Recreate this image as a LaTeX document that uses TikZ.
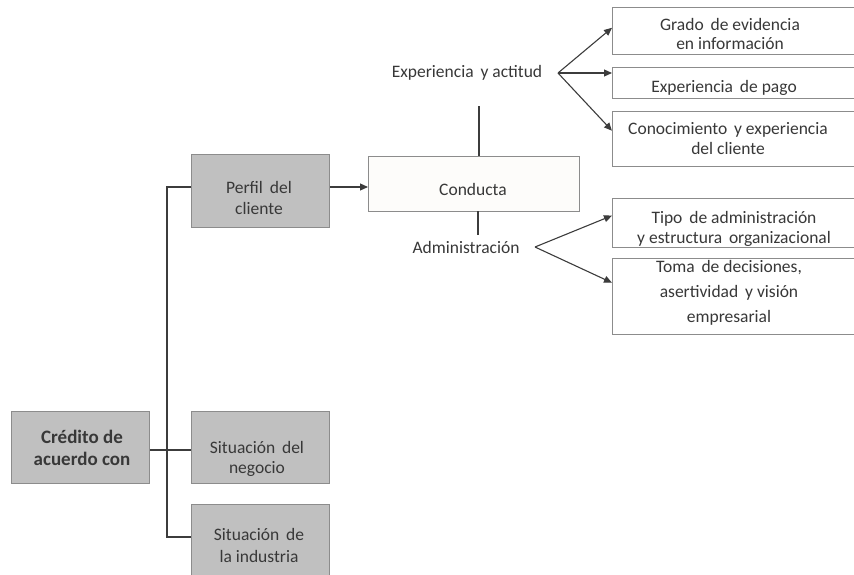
\documentclass[tikz,border=0pt]{standalone}
\usepackage{fontspec}
\setmainfont{Carlito}
\usetikzlibrary{arrows.meta,calc}
\definecolor{boxgray}{HTML}{C0C0C0}
\definecolor{boxline}{HTML}{8C8C8C}
\definecolor{linecol}{HTML}{3C3C3C}
\definecolor{txt}{HTML}{383838}
\definecolor{paper}{HTML}{FDFCFA}
\tikzset{
  base/.style={line width=1.3pt, draw=boxline, inner sep=0pt, anchor=north west},
  graybox/.style={base, fill=boxgray},
  whitebox/.style={base, fill=white},
  txtnode/.style={text=txt, align=center, inner sep=0pt, font=\fontsize{17.5}{#1}\selectfont},
  txtnode/.default=20,
  conn/.style={draw=linecol, line width=1.1pt},
  arr/.style={conn, -{Triangle[length=8pt,width=7pt]}}
}
\begin{document}
\begin{tikzpicture}[x=1pt,y=-1pt]
\useasboundingbox (0,0) rectangle (854,574);
\clip (0,0) rectangle (854,574);

% left column
\node[graybox, minimum width=138pt, minimum height=72pt] (cred) at (11,411) {};
\node[txtnode=22, font=\fontsize{19}{22}\selectfont\bfseries] (credT) at (82,448) {Crédito de\\acuerdo con};

\node[graybox, minimum width=138pt, minimum height=73pt] (perfil) at (191,154) {};
\node[txtnode=21] (perfilT) at (259,198) {Perfil\, del\\cliente};

\node[graybox, minimum width=138pt, minimum height=72pt] (negocio) at (191,411) {};
\node[txtnode=20] (negocioT) at (257,459) {Situación\, del\\negocio};

\node[graybox, minimum width=138pt, minimum height=90pt] (industria) at (191,504) {};
\node[txtnode=22] (industriaT) at (259,545) {Situación\, de\\la industria};

% trunk joining the four grey boxes
\coordinate (trtop) at (167,187);
\coordinate (trbot) at (167,537);
\draw[conn] (cred.east |- 0,450) -- (negocio.west |- 0,450);
\draw[conn] (perfil.west |- trtop) -- (trtop) -- (trbot) -- (industria.west |- trbot);

% conducta
\node[whitebox, fill=paper, minimum width=211pt, minimum height=55pt] (conducta) at (368,156) {};
\node[txtnode] (conductaT) at (473,189) {Conducta};
\draw[arr] (perfil.east |- 0,187) -- (conducta.west |- 0,187);

% upper branch
\node[txtnode] (exp) at (467,73) {Experiencia\, y actitud};
\coordinate (expfork) at (558,73);
\draw[conn] (479,106) -- (479,156);

\node[whitebox, minimum width=300pt, minimum height=47pt] (grado) at (612,7) {};
\node[txtnode=19] (gradoT) at (730,34) {Grado\, de evidencia\\en información};
\node[whitebox, minimum width=300pt, minimum height=31pt] (pago) at (612,67) {};
\node[txtnode] (pagoT) at (724,88) {Experiencia\, de pago};
\node[whitebox, minimum width=300pt, minimum height=55pt] (conoc) at (612,111) {};
\node[txtnode] (conocT) at (728,139) {Conocimiento\, y experiencia\\del cliente};

\draw[arr] (expfork) -- ($(grado.north west)!0.43!(grado.south west)$);
\draw[arr] (expfork) -- (expfork -| pago.west);
\draw[arr] (expfork) -- ($(conoc.north west)!0.35!(conoc.south west)$);

% lower branch
\node[txtnode] (adm) at (466,247) {Administración};
\coordinate (admfork) at (535,247);
\draw[conn] (478,211) -- (478,235);

\node[whitebox, minimum width=300pt, minimum height=49pt] (tipo) at (612,198) {};
\node[txtnode] (tipoT) at (734,229) {Tipo\, de administración\\y estructura\, organizacional};
\node[whitebox, minimum width=300pt, minimum height=76pt] (toma) at (612,258) {};
\node[txtnode=25] (tomaT) at (729,293) {Toma\, de decisiones,\\asertividad\, y visión\\empresarial};

\draw[arr] (admfork) -- ($(tipo.north west)!0.35!(tipo.south west)$);
\draw[arr] (admfork) -- ($(toma.north west)!0.32!(toma.south west)$);
\end{tikzpicture}
\end{document}
